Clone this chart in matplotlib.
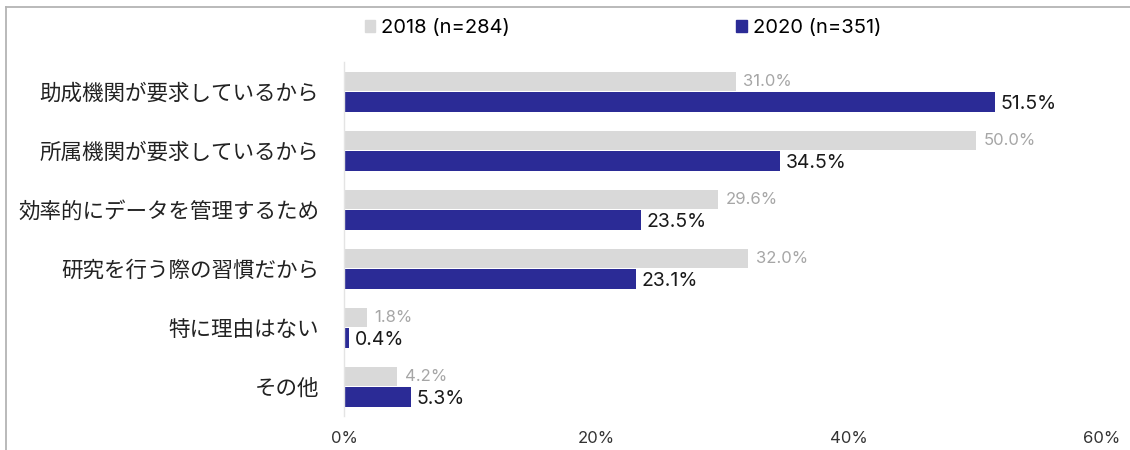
import numpy as np
import matplotlib
matplotlib.use("Agg")
import matplotlib.pyplot as plt
from matplotlib.lines import Line2D
from matplotlib.patches import Patch

plt.rcParams['font.family'] = ['Noto Sans CJK JP', 'DejaVu Sans']
num_font = ['Inter', 'DejaVu Sans']

# data
categories = ['助成機関が要求しているから', '所属機関が要求しているから',
              '効率的にデータを管理するため', '研究を行う際の習慣だから',
              '特に理由はない', 'その他']
vals_2018 = [31.0, 50.0, 29.6, 32.0, 1.8, 4.2]
vals_2020 = [51.5, 34.5, 23.5, 23.1, 0.4, 5.3]
series_names = ['2018 (n=284)', '2020 (n=351)']
xticks = [0, 20, 40, 60]

col_2018 = '#d9d9d9'
col_2020 = '#2b2b96'

fig = plt.figure(figsize=(11.3, 4.5), dpi=100)
ax = fig.add_axes([344/1130, 1 - 416/450, (1102 - 344)/1130, 354/450])

y = np.arange(len(categories))
ax.barh(y - 0.17, vals_2018, height=0.33, color=col_2018)
ax.barh(y + 0.175, vals_2020, height=0.345, color=col_2020)

for yi, v in zip(y, vals_2018):
    ax.text(v + 0.6, yi - 0.17, f'{v:.1f}%', va='center', ha='left',
            fontsize=12, color='#a6a6a6', family=num_font)
for yi, v in zip(y, vals_2020):
    ax.text(v + 0.45, yi + 0.22, f'{v:.1f}%', va='center', ha='left',
            fontsize=14, color='#1a1a1a', family=num_font)

ax.set_xlim(0, 60)
ax.set_ylim(len(categories) - 0.5, -0.5)
ax.set_yticks(y)
ax.set_yticklabels(categories, fontsize=15.5, color='#222222')
ax.set_xticks(xticks)
ax.set_xticklabels([f'{t}%' for t in xticks], fontsize=12, color='#333333',
                   family=num_font)
ax.tick_params(axis='both', length=0)
ax.tick_params(axis='y', pad=18)
ax.tick_params(axis='x', pad=11)
for s in ['top', 'right', 'bottom']:
    ax.spines[s].set_visible(False)
ax.spines['left'].set_color('#e4e4e4')
ax.spines['left'].set_linewidth(1.0)

handles = [Patch(color=col_2018), Patch(color=col_2020)]
fig.legend(handles, series_names, loc='center left', ncol=2,
           bbox_to_anchor=(357/1130, 1 - 28/450), frameon=False,
           prop={'family': num_font, 'size': 14.5},
           handlelength=0.5, handleheight=0.5,
           handletextpad=0.3, columnspacing=11.25, borderaxespad=0)

# outer frame lines (top and left)
fig.add_artist(Line2D([6/1130, 1], [1 - 7/450, 1 - 7/450], color='#b4b4b4',
                      lw=1.3, transform=fig.transFigure))
fig.add_artist(Line2D([6/1130, 6/1130], [0, 1 - 7/450], color='#b4b4b4',
                      lw=1.3, transform=fig.transFigure))

fig.savefig('out.png', dpi=100)
